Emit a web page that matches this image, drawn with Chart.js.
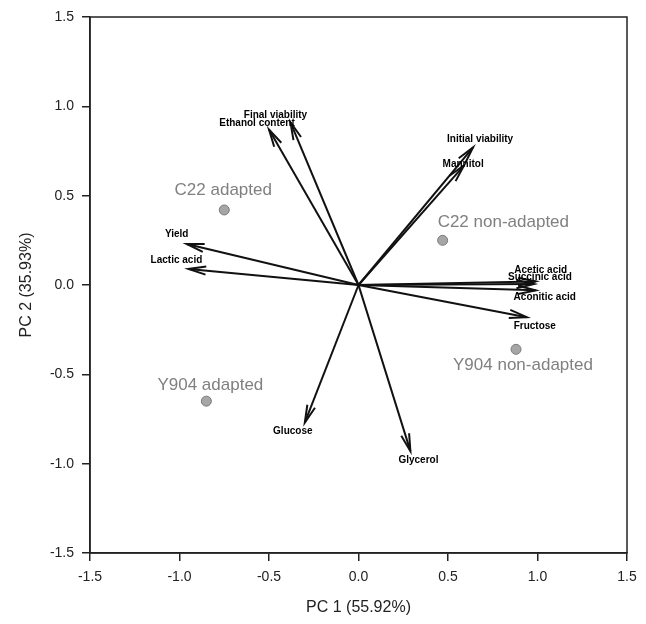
<!DOCTYPE html>
<html>
<head>
<meta charset="utf-8">
<script src="https://cdn.jsdelivr.net/npm/chart.js@4/dist/chart.umd.min.js"></script>
<style>
  html, body { margin: 0; padding: 0; background: #fff; }
  #wrap { width: 646px; height: 624px; }
</style>
</head>
<body>
<div id="wrap"><canvas id="myChart" width="646" height="624"></canvas></div>
<script>
"use strict";

// loadings (arrows)
const varNames = ["Final viability", "Ethanol content", "Initial viability", "Mannitol", "Yield", "Lactic acid",
                  "Acetic acid", "Succinic acid", "Aconitic acid", "Fructose", "Glucose", "Glycerol"];
const pc1Load = [-0.38, -0.50, 0.64, 0.59, -0.96, -0.95, 0.99, 0.98, 0.99, 0.94, -0.30, 0.29];
const pc2Load = [0.91, 0.87, 0.77, 0.67, 0.23, 0.09, 0.02, 0.005, -0.03, -0.18, -0.77, -0.93];

// scores (grey points)
const sampleNames = ["C22 adapted", "C22 non-adapted", "Y904 non-adapted", "Y904 adapted"];
const pc1Score = [-0.75, 0.47, 0.88, -0.85];
const pc2Score = [0.42, 0.25, -0.36, -0.65];

const axisMin = -1.5;
const axisMax = 1.5;
const tickStep = 0.5;

// label offsets in px from the arrow tip / point
const varLabelOffset = {
  "Final viability": [-15, -7], "Ethanol content": [-12, -6], "Initial viability": [7, -8],
  "Mannitol": [-1, -1], "Yield": [-10, -10], "Lactic acid": [-12, -9],
  "Acetic acid": [5, -11], "Succinic acid": [6, -7], "Aconitic acid": [9, 7],
  "Fructose": [8, 9], "Glucose": [-12, 9], "Glycerol": [8, 9]
};
const sampleLabelOffset = {
  "C22 adapted": [-1, -20, "center"], "C22 non-adapted": [-5, -18, "left"],
  "Y904 non-adapted": [-63, 16, "left"], "Y904 adapted": [4, -16, "center"]
};

const datasets = [];
for (let i = 0; i < varNames.length; i++) {
  datasets.push({
    label: varNames[i],
    data: [{x: 0, y: 0}, {x: pc1Load[i], y: pc2Load[i]}],
    showLine: true,
    borderColor: "#111",
    borderWidth: 2,
    pointRadius: 0,
    fill: false
  });
}
datasets.push({
  label: "samples",
  data: sampleNames.map((n, i) => ({x: pc1Score[i], y: pc2Score[i]})),
  showLine: false,
  pointRadius: 5,
  backgroundColor: "#a6a6a6",
  borderColor: "#7a7a7a",
  borderWidth: 1
});

const biplotPlugin = {
  id: "biplot",
  afterDatasetsDraw(chart) {
    const ctx = chart.ctx;
    const xs = chart.scales.x;
    const ys = chart.scales.y;
    const area = chart.chartArea;

    ctx.save();
    // box
    ctx.strokeStyle = "#222";
    ctx.lineWidth = 1.5;
    ctx.strokeRect(area.left, area.top, area.right - area.left, area.bottom - area.top);

    // arrow heads + labels
    const ox = xs.getPixelForValue(0);
    const oy = ys.getPixelForValue(0);
    ctx.lineWidth = 2;
    ctx.strokeStyle = "#111";
    ctx.fillStyle = "#000";
    ctx.font = 'bold 10px "Liberation Sans Narrow", "Liberation Sans", Arial';
    ctx.textAlign = "center";
    ctx.textBaseline = "middle";
    for (let i = 0; i < varNames.length; i++) {
      const tx = xs.getPixelForValue(pc1Load[i]);
      const ty = ys.getPixelForValue(pc2Load[i]);
      const ang = Math.atan2(ty - oy, tx - ox);
      const len = 18, spread = 0.23;
      ctx.beginPath();
      ctx.moveTo(tx - len * Math.cos(ang - spread), ty - len * Math.sin(ang - spread));
      ctx.lineTo(tx, ty);
      ctx.lineTo(tx - len * Math.cos(ang + spread), ty - len * Math.sin(ang + spread));
      ctx.stroke();
      const off = varLabelOffset[varNames[i]];
      ctx.fillText(varNames[i], tx + off[0], ty + off[1]);
    }

    // sample labels
    ctx.fillStyle = "#808080";
    ctx.font = '17px "Liberation Sans", Arial';
    for (let i = 0; i < sampleNames.length; i++) {
      const px = xs.getPixelForValue(pc1Score[i]);
      const py = ys.getPixelForValue(pc2Score[i]);
      const off = sampleLabelOffset[sampleNames[i]];
      ctx.textAlign = off[2];
      ctx.fillText(sampleNames[i], px + off[0], py + off[1]);
    }
    ctx.restore();
  }
};

const tickFmt = v => Number(v).toFixed(1);

const config = {
  type: "scatter",
  data: { datasets: datasets },
  options: {
    responsive: false,
    animation: false,
    layout: { padding: { left: 0, right: 19, top: 17, bottom: 0 } },
    plugins: { legend: { display: false }, tooltip: { enabled: false } },
    scales: {
      x: {
        type: "linear",
        min: axisMin, max: axisMax,
        afterFit(scale) { scale.height = 71; },
        ticks: { stepSize: tickStep, callback: tickFmt, color: "#222", padding: 8,
                 font: { family: '"Liberation Sans", Arial', size: 14 }, maxRotation: 0 },
        grid: { display: true, drawOnChartArea: false, drawTicks: true, tickLength: 8, color: "#222", lineWidth: 1.5 },
        border: { display: true, color: "#222", width: 1.5 },
        title: { display: true, text: "PC 1 (55.92%)", color: "#222",
                 font: { family: '"Liberation Sans", Arial', size: 16 }, padding: { top: 0, bottom: 7 } }
      },
      y: {
        type: "linear",
        min: axisMin, max: axisMax,
        afterFit(scale) { scale.width = 90; },
        ticks: { stepSize: tickStep, callback: tickFmt, color: "#222", padding: 8,
                 font: { family: '"Liberation Sans", Arial', size: 14 } },
        grid: { display: true, drawOnChartArea: false, drawTicks: true, tickLength: 8, color: "#222", lineWidth: 1.5 },
        border: { display: true, color: "#222", width: 1.5 },
        title: { display: true, text: "PC 2 (35.93%)", color: "#222",
                 font: { family: '"Liberation Sans", Arial', size: 16 }, padding: { top: 17, bottom: 0 } }
      }
    }
  },
  plugins: [biplotPlugin]
};

new Chart(document.getElementById("myChart").getContext("2d"), config);
</script>
</body>
</html>
